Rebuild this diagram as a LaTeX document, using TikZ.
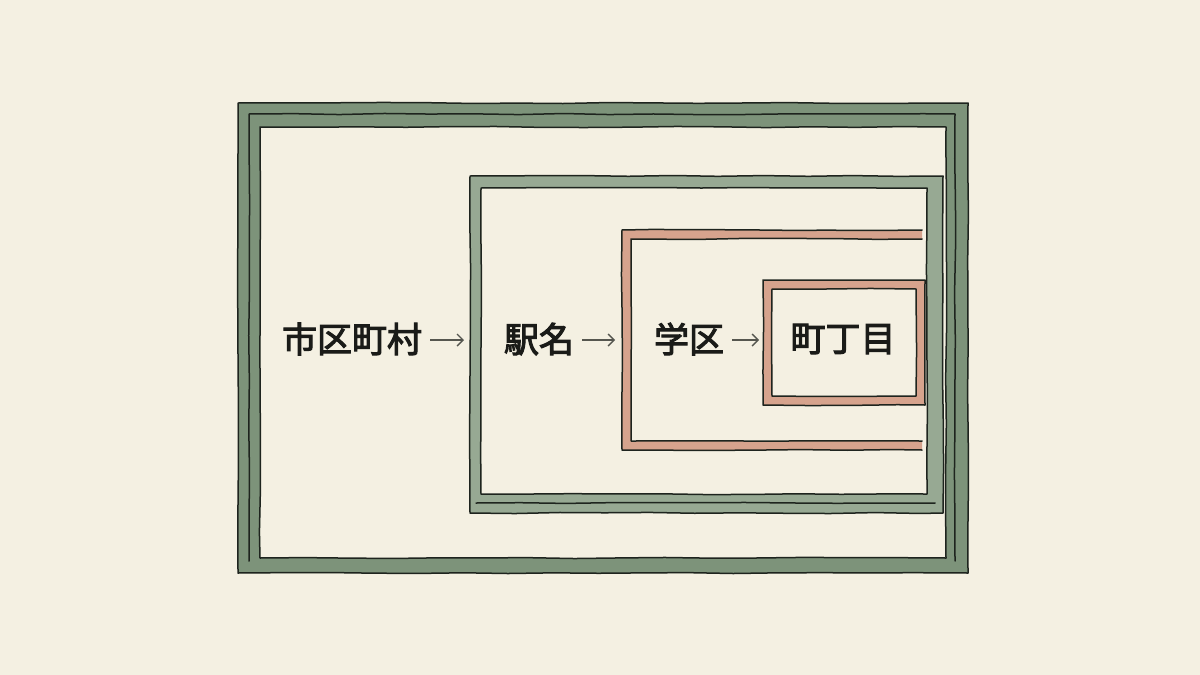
\documentclass[tikz,border=0pt]{standalone}
\usepackage{fontspec}
\newfontfamily\jpfont[FakeBold=3]{Noto Sans CJK JP}
\usetikzlibrary{arrows.meta,decorations.pathmorphing}
\definecolor{paper}{HTML}{F4F0E2}
\definecolor{sage}{HTML}{7D937A}
\definecolor{sagelight}{HTML}{97A993}
\definecolor{salmon}{HTML}{D6A38D}
\definecolor{inkc}{HTML}{1E241E}
\definecolor{txtc}{HTML}{1A1B18}
\definecolor{arrc}{HTML}{55564F}

\begin{document}
\begin{tikzpicture}[x=1pt, y=-1pt,
    ink/.style={draw=inkc, line width=1.5pt, line cap=round, line join=round,
      decorate, decoration={random steps, segment length=45pt, amplitude=0.6pt}},
    lbl/.style={font=\jpfont\fontsize{35}{35}\selectfont, text=txtc, inner sep=0pt},
    arr/.style={draw=arrc, line width=1.4pt, shorten <=8pt, -{Straight Barb[length=6pt,width=12pt]}}]
        \pgfmathsetseed{11}
        \fill[paper] (0,0) rectangle (1200,675);
        \useasboundingbox (0,0) rectangle (1200,675);
        % Outer box
        \fill[sage, even odd rule] (238,103) rectangle (968,573) (260,127) rectangle (946,558);
        \draw[ink] (238,103) rectangle (968,573);
        \draw[ink] (249,561) -- (249,114) -- (955,114) -- (955,561);
        \draw[ink] (260,127) rectangle (946,558);
        % Second box
        \fill[sagelight, even odd rule] (470,176) rectangle (943,513) (481,188) rectangle (927,494);
        \draw[ink] (470,176) rectangle (943,513);
        \draw[ink] (476,503) -- (935,503);
        \draw[ink] (481,188) rectangle (927,494);
        % Third box (open on the right)
        \fill[salmon] (922,230) -- (622,230) -- (622,450) -- (922,450) -- (922,441)
            -- (631,441) -- (631,239) -- (922,239) -- cycle;
        \draw[ink] (922,230) -- (622,230) -- (622,450) -- (922,450);
        \draw[ink] (922,239) -- (631,239) -- (631,441) -- (922,441);
        % Inner box
        \fill[salmon, even odd rule] (763,280) rectangle (925,405) (772,289) rectangle (916,396);
        \draw[ink] (763,280) rectangle (925,405);
        \draw[ink] (772,289) rectangle (916,396);
        % Labels and arrows
        \foreach \x/\nm/\txt in {352/shiku/市区町村, 539/eki/駅名, 689/gakku/学区, 843/chome/町丁目} {
            \node[lbl] (\nm) at (\x,339) {\txt};
        }
        \coordinate (eki-in) at (464,340);
        \coordinate (gakku-in) at (615,340);
        \coordinate (chome-in) at (759,340);
        \foreach \a/\b in {shiku/eki, eki/gakku, gakku/chome} {
            \draw[arr] (\a.east |- \b-in) -- (\b-in);
        }
\end{tikzpicture}
\end{document}
